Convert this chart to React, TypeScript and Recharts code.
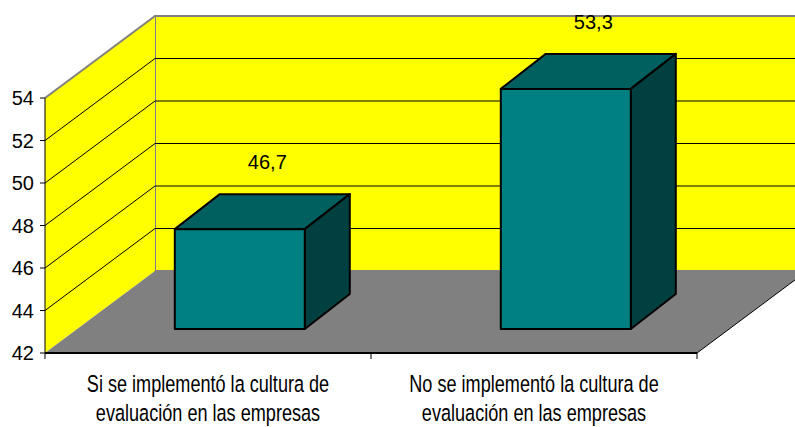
import React from 'react';
import { Bar, BarChart, LabelList, ReferenceArea, XAxis, YAxis } from 'recharts';

const categories = [
  'Si se implementó la cultura de\nevaluación en las empresas',
  'No se implementó la cultura de\nevaluación en las empresas',
];
const values = [46.7, 53.3];
const yTicks = [42, 44, 46, 48, 50, 52, 54];

const data = categories.map((name, i) => ({ name, value: values[i] }));

// 3d look: wall depth and bar depth (pixels)
const WALL_DX = 110;
const WALL_DY = 82;
const BAR_OX = 32;
const BAR_OY = 24;
const BAR_DX = 45;
const BAR_DY = 35;

const FONT = '"Liberation Sans", Arial, sans-serif';

const Walls = (props: any) => {
  const { x, y, width, height } = props;
  const L = x;
  const R = x + width;
  const T = y;
  const B = y + height;
  const lo = yTicks[0];
  const hi = yTicks[yTicks.length - 1];
  const inner = yTicks.slice(1, -1);
  const n = categories.length;
  return (
    <g>
      <rect x={L + WALL_DX} y={T - WALL_DY} width={width} height={height} fill="#ffff00" stroke="#808080" strokeWidth={2} />
      <polygon
        points={`${L},${T} ${L + WALL_DX},${T - WALL_DY} ${L + WALL_DX},${B - WALL_DY} ${L},${B}`}
        fill="#ffff00"
      />
      <line x1={L} y1={T} x2={L + WALL_DX} y2={T - WALL_DY} stroke="#808080" strokeWidth={2} />
      <polygon
        points={`${L},${B} ${R},${B} ${R + WALL_DX},${B - WALL_DY} ${L + WALL_DX},${B - WALL_DY}`}
        fill="#808080"
      />
      <line x1={R} y1={B} x2={R + WALL_DX} y2={B - WALL_DY} stroke="#000" strokeWidth={1} />
      {inner.map((v) => {
        const gy = T + (height * (hi - v)) / (hi - lo);
        return (
          <g key={v}>
            <line x1={L} y1={gy} x2={L + WALL_DX} y2={gy - WALL_DY} stroke="#000" strokeWidth={1} />
            <line x1={L + WALL_DX} y1={gy - WALL_DY} x2={R + WALL_DX} y2={gy - WALL_DY} stroke="#000" strokeWidth={1} />
          </g>
        );
      })}
      {Array.from({ length: n + 1 }, (_, i) => {
        const tx = L + (i * width) / n;
        return <line key={i} x1={tx} y1={B} x2={tx} y2={B + 6} stroke="#000" strokeWidth={1} />;
      })}
    </g>
  );
};

const Box = (props: any) => {
  const { x, y, width, height } = props;
  const fx = x + BAR_OX;
  const fy = y - BAR_OY;
  return (
    <g stroke="#000" strokeWidth={2} strokeLinejoin="round">
      <polygon
        points={`${fx},${fy} ${fx + BAR_DX},${fy - BAR_DY} ${fx + width + BAR_DX},${fy - BAR_DY} ${fx + width},${fy}`}
        fill="#006060"
      />
      <polygon
        points={`${fx + width},${fy} ${fx + width + BAR_DX},${fy - BAR_DY} ${fx + width + BAR_DX},${fy + height - BAR_DY} ${fx + width},${fy + height}`}
        fill="#004040"
      />
      <rect x={fx} y={fy} width={width} height={height} fill="#008080" />
    </g>
  );
};

const ValueLabel = (props: any) => {
  const { x, y, width, value } = props;
  return (
    <text
      x={x + width / 2 + BAR_OX + BAR_DX / 2 + 5}
      y={y - BAR_OY - BAR_DY - 32}
      textAnchor="middle"
      dominantBaseline="central"
      fontFamily={FONT}
      fontSize={20}
      fill="#000"
    >
      {String(value).replace('.', ',')}
    </text>
  );
};

// excel squeezes the category text horizontally
const CategoryTick = (props: any) => {
  const { x, y, payload } = props;
  const lines = String(payload.value).split('\n');
  return (
    <g transform={`translate(${x},0) scale(0.77,1)`}>
      <text x={0} y={y} textAnchor="middle" fontFamily={FONT} fontSize={23.5} fill="#000">
        {lines.map((line, i) => (
          <tspan key={i} x={0} y={y + 31 + i * 29}>
            {line}
          </tspan>
        ))}
      </text>
    </g>
  );
};

export default function App() {
  return (
    <div style={{ position: 'absolute', left: 0, top: 0, width: 795, height: 427, overflow: 'hidden', background: '#fff' }}>
      <BarChart width={810} height={427} data={data} margin={{ top: 98, right: 113, bottom: 0, left: 0 }} barCategoryGap="30%">
        <ReferenceArea y1={42} y2={54} shape={<Walls />} ifOverflow="visible" />
        <XAxis dataKey="name" height={74} axisLine={{ stroke: '#000', strokeWidth: 2 }} tickLine={false} tick={<CategoryTick />} interval={0} />
        <YAxis
          domain={[42, 54]}
          ticks={yTicks}
          width={45}
          axisLine={{ stroke: '#000', strokeWidth: 1 }}
          tickLine={{ stroke: '#000' }}
          tickSize={5}
          tickMargin={6}
          tick={{ fill: '#000', fontSize: 20, fontFamily: FONT }}
          interval={0}
        />
        <Bar dataKey="value" shape={<Box />} isAnimationActive={false}>
          <LabelList dataKey="value" content={<ValueLabel />} />
        </Bar>
      </BarChart>
    </div>
  );
}
